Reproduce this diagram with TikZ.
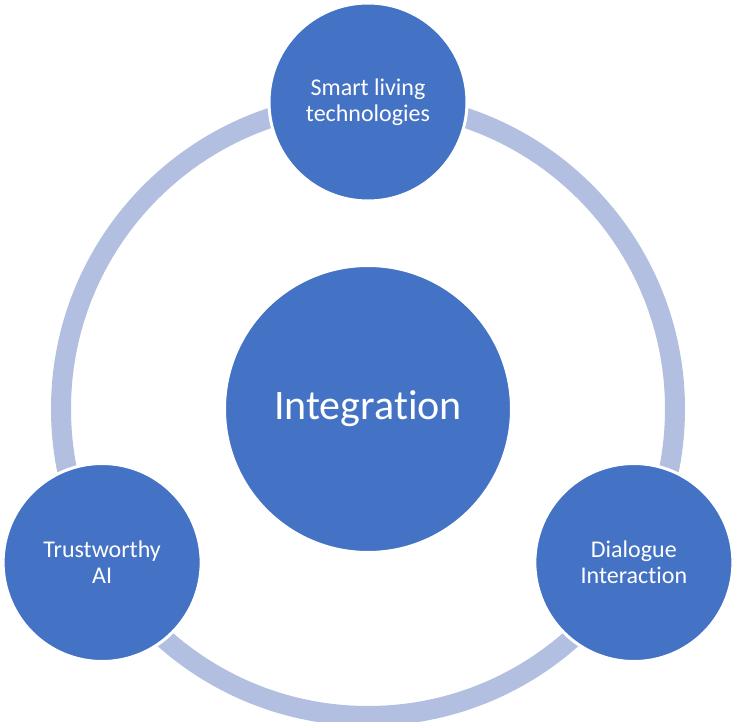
\documentclass[tikz,border=0pt]{standalone}
\usepackage{fontspec}
\setmainfont[Ligatures=NoCommon]{Carlito}
\usepackage{tikz}
\usetikzlibrary{positioning,calc}

\definecolor{hubblue}{RGB}{68,114,196}
\definecolor{ringblue}{RGB}{178,191,224}

\tikzset{
  hub/.style={circle, fill=hubblue, draw=white, line width=3pt, inner sep=0pt, text=white, align=center},
  bighub/.style={hub, minimum size=287pt, font=\fontsize{42}{46}\selectfont},
  smallhub/.style={hub, minimum size=198pt, font=\fontsize{24}{26}\selectfont},
}

\begin{document}
\begin{tikzpicture}[x=1pt,y=1pt]
        \useasboundingbox (-368,-312) rectangle (368,409);

        % Ring behind everything
        \coordinate (mid) at (0,0);
        \draw[ringblue, line width=20pt] (mid) circle (307);

        % Centre
        \node[bighub] (integ) at (mid) {Integration};

        % Three topics on the ring
        \node[smallhub] (smart) at (90:307) {Smart living\\technologies};
        \node[smallhub] (trust) at (210:307) {Trustworthy\\AI};
        \node[smallhub] (dialog) at (-30:307) {Dialogue\\Interaction};

      \end{tikzpicture}
\end{document}
